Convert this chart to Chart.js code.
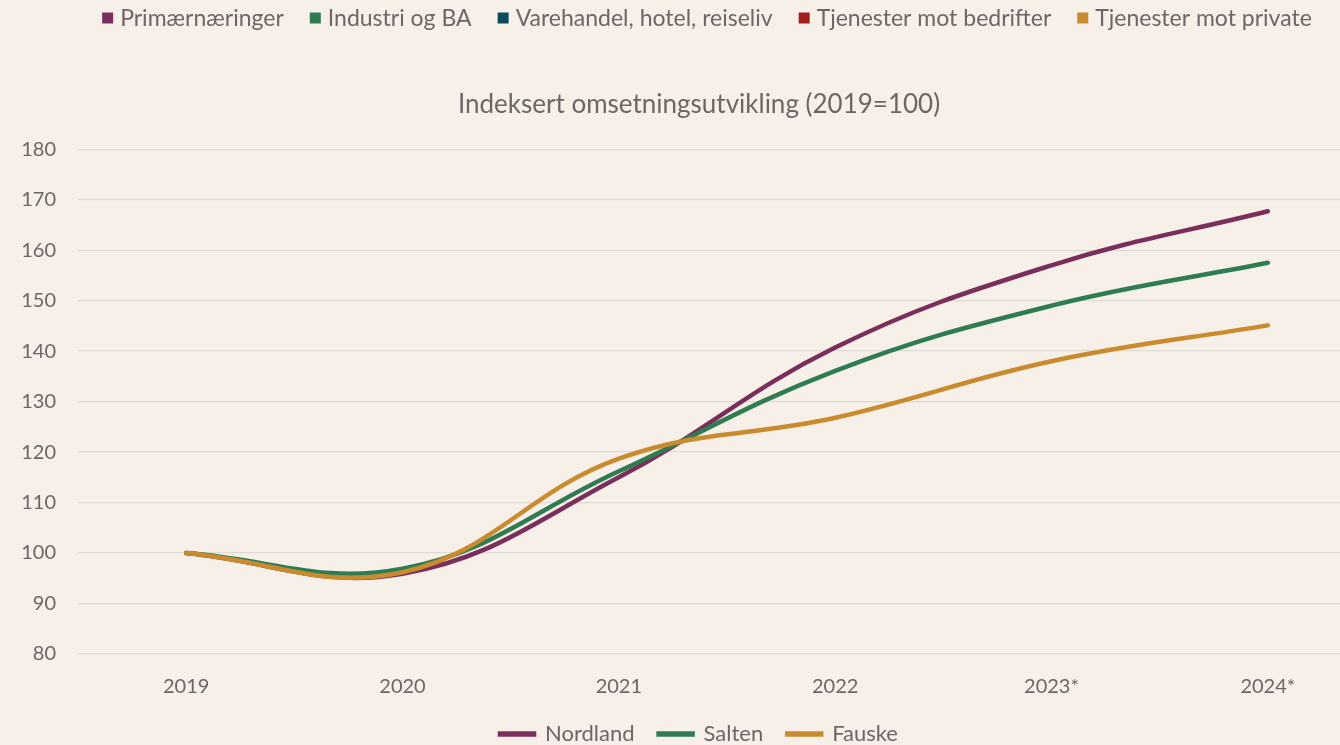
<!DOCTYPE html>
<html lang="no">
<head>
    <meta charset="UTF-8">
    <title>Indeksert omsetningsutvikling</title>
    <style>
        html, body {
            margin: 0;
            padding: 0;
            overflow: hidden;
            background-color: #f6f0e9;
        }

        .wrap {
            width: 1410px;
            height: 755px;
        }
    </style>
</head>
<body>
    <div class="wrap">
        <canvas id="omsetning"></canvas>
    </div>

    <script src="https://cdn.jsdelivr.net/npm/chart.js"></script>
    <script>
        // Årstall (2023 og 2024 er anslag)
        const aar = ['2019', '2020', '2021', '2022', '2023*', '2024*'];

        // Indeks, 2019 = 100
        const nordland = [100, 95.9, 115.0, 140.7, 157.0, 167.7];
        const salten = [100, 96.9, 116.2, 136.1, 149.0, 157.5];
        const fauske = [100, 96.2, 118.7, 126.8, 138.0, 145.1];

        // Næringer i øvre tegnforklaring (ingen verdier i denne visningen)
        const naeringer = ['Primærnæringer', 'Industri og BA', 'Varehandel, hotel, reiseliv', 'Tjenester mot bedrifter', 'Tjenester mot private'];

        const naeringFarger = ['#7a2e5c', '#2f7c53', '#0c4b5c', '#a51c1d', '#c98b2e'];
        const tekstFarge = '#706466';
        const fontFamilie = 'Lato, "Open Sans", sans-serif';

        Chart.defaults.font.family = fontFamilie;
        Chart.defaults.color = tekstFarge;

        // Tegner forklaringen for næringene øverst, sentrert på lerretet
        const toppForklaring = {
            id: 'toppForklaring',
            afterDraw(chart) {
                const ctx = chart.ctx;
                const items = chart.data.datasets.filter(d => d.type === 'bar');
                const box = 11, boxGap = 7, itemGap = 26;
                ctx.save();
                ctx.font = '23px ' + fontFamilie;
                ctx.textBaseline = 'middle';
                const widths = items.map(d => box + boxGap + ctx.measureText(d.label).width);
                const total = widths.reduce((a, b) => a + b, 0) + itemGap * (items.length - 1);
                let x = 707 - total / 2;
                const y = 18;
                items.forEach((d, i) => {
                    ctx.fillStyle = d.backgroundColor;
                    ctx.fillRect(x, y - box / 2, box, box);
                    ctx.fillStyle = tekstFarge;
                    ctx.fillText(d.label, x + box + boxGap, y + 1);
                    x += widths[i] + itemGap;
                });
                ctx.restore();
            }
        };

        const linje = (label, data, color, order) => ({
            type: 'line',
            label: label,
            data: data,
            borderColor: color,
            backgroundColor: color,
            borderWidth: 4.5,
            borderCapStyle: 'round',
            pointRadius: 0,
            tension: 0.4,
            fill: false,
            order: order
        });

        const datasets = naeringer.map((n, i) => ({
            type: 'bar',
            label: n,
            data: [],
            backgroundColor: naeringFarger[i]
        }));
        datasets.push(
            linje('Nordland', nordland, '#7a2e5c', 3),
            linje('Salten', salten, '#2f7c53', 2),
            linje('Fauske', fauske, '#c98b2e', 1)
        );

        new Chart(document.getElementById('omsetning'), {
            data: {
                labels: aar,
                datasets: datasets
            },
            options: {
                responsive: true,
                maintainAspectRatio: false,
                animation: false,
                layout: {
                    padding: { top: 60, left: 22, right: 34, bottom: 0 }
                },
                plugins: {
                    title: {
                        display: true,
                        text: 'Indeksert omsetningsutvikling (2019=100)',
                        font: { size: 26, weight: 'normal' },
                        padding: { top: 29, bottom: 29 }
                    },
                    legend: {
                        position: 'bottom',
                        labels: {
                            filter: item => item.datasetIndex >= naeringer.length,
                            sort: (a, b) => a.datasetIndex - b.datasetIndex,
                            boxWidth: 34,
                            boxHeight: 1,
                            padding: 24,
                            font: { size: 22 }
                        }
                    },
                    tooltip: { enabled: false }
                },
                scales: {
                    x: {
                        offset: true,
                        grid: { display: false, drawTicks: false },
                        border: { display: false },
                        ticks: { padding: 21, font: { size: 20 } },
                        afterFit: s => { s.height = 45; }
                    },
                    y: {
                        min: 80,
                        max: 180,
                        ticks: { stepSize: 10, padding: 22, font: { size: 20 } },
                        grid: { color: '#dedad6', lineWidth: 1.3, drawTicks: false },
                        border: { display: false },
                        afterFit: s => { s.width = 56; }
                    }
                }
            },
            plugins: [toppForklaring]
        });
    </script>
</body>
</html>
